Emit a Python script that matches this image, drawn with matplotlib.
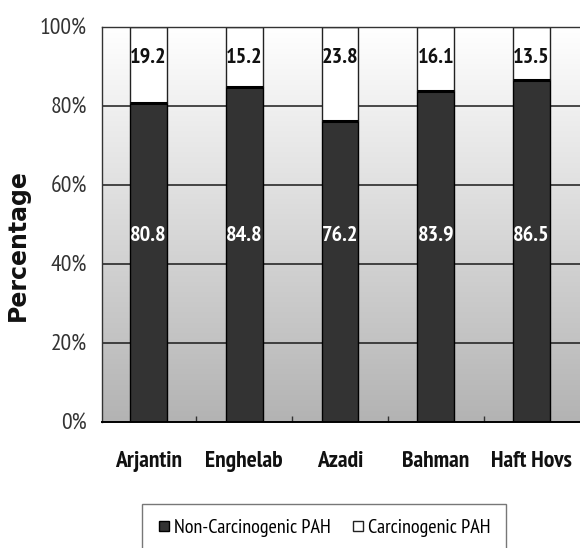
import numpy as np
import matplotlib
matplotlib.use("Agg")
import matplotlib.pyplot as plt
from matplotlib.lines import Line2D
from matplotlib.colors import LinearSegmentedColormap

sites = ["Arjantin", "Enghelab", "Azadi", "Bahman", "Haft Hovs"]
non_carcinogenic = [80.8, 84.8, 76.2, 83.9, 86.5]
carcinogenic = [19.2, 15.2, 23.8, 16.1, 13.5]
y_ticks = [0, 20, 40, 60, 80, 100]
y_tick_labels = ["0%", "20%", "40%", "60%", "80%", "100%"]

narrow = ["Arial Narrow", "Liberation Sans Narrow", "PT Sans Narrow",
          "Archivo Narrow", "Roboto Condensed", "Liberation Sans"]

fig = plt.figure(figsize=(5.8, 5.48), dpi=100)
ax = fig.add_axes([0.1759, 0.2299, 0.8241, 0.7208])

x = np.arange(len(sites))
x_lo, x_hi = -0.484, len(sites) - 0.495
ax.set_xlim(x_lo, x_hi)
ax.set_ylim(0, 100)

# vertical grey gradient behind the plot
cmap = LinearSegmentedColormap.from_list("bg", ["#b3b3b3", "#ffffff"])
grad = np.linspace(0, 1, 256).reshape(-1, 1)
ax.imshow(grad, cmap=cmap, aspect="auto", origin="lower",
          extent=[x_lo, x_hi, 0, 100], zorder=0)

for yv in y_ticks[1:]:
    ax.axhline(yv, color="#1a1a1a", lw=1.1, zorder=1)

width = 0.385
ax.bar(x, non_carcinogenic, width, color="#333333", edgecolor="#000000",
       lw=1.0, zorder=2)
ax.bar(x, carcinogenic, width, bottom=non_carcinogenic, color="#ffffff",
       edgecolor="#222222", lw=1.0, zorder=2)
# heavy seam between the two segments
for xi, nv in zip(x, non_carcinogenic):
    ax.plot([xi - width / 2, xi + width / 2], [nv, nv], color="#000000",
            lw=2.2, zorder=3, solid_capstyle="butt")

for xi, nv, cv in zip(x, non_carcinogenic, carcinogenic):
    ax.text(xi, 47.3, f"{nv:.1f}", color="white", ha="center", va="center",
            fontsize=16, fontweight="bold", family=narrow, zorder=4)
    ax.text(xi, 92.3, f"{cv:.1f}", color="#111111", ha="center", va="center",
            fontsize=16, fontweight="bold", family=narrow, zorder=4)

ax.set_yticks(y_ticks)
ax.set_yticklabels(y_tick_labels, family=narrow, fontsize=17, color="#333333")
ax.tick_params(axis="y", length=0, pad=11)

ax.set_xticks(x)
ax.set_xticklabels(sites, family=narrow, fontsize=17, fontweight="bold",
                   color="#111111")
ax.tick_params(axis="x", length=0, pad=21)
ax.set_xticks(x[:-1] + 0.5, minor=True)
ax.tick_params(axis="x", which="minor", direction="in", length=4,
               color="#333333", width=1)

for side in ["top", "left"]:
    ax.spines[side].set_color("#333333")
    ax.spines[side].set_linewidth(1.0)
ax.spines["bottom"].set_color("#000000")
ax.spines["bottom"].set_linewidth(1.4)
ax.spines["right"].set_visible(False)

fig.text(0.031, 0.553, "Percentage", rotation=90, ha="center", va="center",
         fontsize=17, fontweight="bold", family="DejaVu Sans", color="#111111")

handles = [
    Line2D([], [], marker="s", ls="none", markersize=7,
           markerfacecolor="#333333", markeredgecolor="#000000"),
    Line2D([], [], marker="s", ls="none", markersize=7,
           markerfacecolor="#ffffff", markeredgecolor="#222222"),
]
leg = fig.legend(handles, ["Non-Carcinogenic PAH", "Carcinogenic PAH"],
                 loc="upper center", bbox_to_anchor=(0.558, 0.0985), ncol=2,
                 frameon=True, fancybox=False, edgecolor="#555555",
                 handlelength=0.7, handletextpad=0.15, columnspacing=1.0,
                 borderpad=0.75, prop={"family": narrow, "size": 14.5})
leg.get_frame().set_linewidth(1.0)

fig.savefig("out.png", dpi=100)
